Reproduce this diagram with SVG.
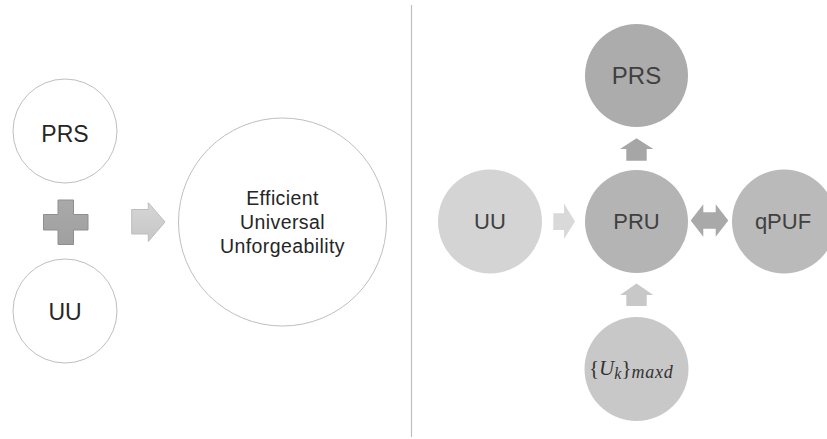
<svg xmlns="http://www.w3.org/2000/svg" width="827" height="439" viewBox="0 0 827 439">
<style>
.lc{fill:#ffffff;stroke:#bfbfbf;stroke-width:1}
.lt{font-family:"Liberation Sans",Arial,sans-serif;fill:#262626;text-anchor:middle}
.rt{font-family:"Liberation Sans",Arial,sans-serif;fill:#404040;text-anchor:middle;font-size:22px}
.mt{font-family:"Liberation Serif","Times New Roman",serif;fill:#333333;font-size:21px}
</style>
<defs>
<linearGradient id="gPlus" x1="0" y1="0" x2="0" y2="1">
<stop offset="0" stop-color="#a9a9a9"/><stop offset="1" stop-color="#a0a0a0"/>
</linearGradient>
<linearGradient id="gArr" x1="0" y1="0" x2="0" y2="1">
<stop offset="0" stop-color="#d6d6d6"/><stop offset="1" stop-color="#c6c6c6"/>
</linearGradient>
</defs>
<rect width="827" height="439" fill="#ffffff"/>
<line x1="411.5" y1="5" x2="411.5" y2="437" stroke="#bfbfbf" stroke-width="1.2"/>

<g id="left-prs"><circle class="lc" cx="65" cy="131" r="52"/><text class="lt" x="65" y="142" font-size="23">PRS</text></g>
<g id="left-uu"><circle class="lc" cx="65" cy="311" r="52"/><text class="lt" x="65" y="320" font-size="23">UU</text></g>
<g id="plus"><path d="M58,200 H73.5 V214.5 H88 V230 H73.5 V244.5 H58 V230 H43.5 V214.5 H58 Z" fill="url(#gPlus)" stroke="#8f8f8f" stroke-width="1"/></g>
<g id="eu"><circle class="lc" cx="282.5" cy="222" r="104"/>
<text class="lt" x="282.5" font-size="19.5" letter-spacing="0.4"><tspan x="282.5" y="205">Efficient</tspan><tspan x="282.5" y="229">Universal</tspan><tspan x="282.5" y="253">Unforgeability</tspan></text></g>

<g id="right-prs"><circle cx="636.5" cy="75.5" r="51.5" fill="#acacac"/><text class="rt" x="636.5" y="84" style="font-size:24px">PRS</text></g>
<g id="right-uu"><circle cx="490" cy="221.5" r="52" fill="#d4d4d4"/><text class="rt" x="490" y="229">UU</text></g>
<g id="pru"><circle cx="636.5" cy="221.5" r="51.5" fill="#b4b4b4"/><text class="rt" x="636.5" y="229">PRU</text></g>
<g id="qpuf"><circle cx="784" cy="221.5" r="52" fill="#bababa"/><text class="rt" x="783" y="229">qPUF</text></g>
<g id="uk"><circle cx="636.5" cy="369" r="52" fill="#c8c8c8"/>
<text class="mt" x="589" y="375">{<tspan font-style="italic">U</tspan><tspan font-style="italic" font-size="16" dy="4">k</tspan><tspan dy="-4">}</tspan><tspan font-style="italic" font-size="18" letter-spacing="0.8" dy="3">maxd</tspan></text></g>

<g id="connectors">
<path d="M131.7,209.5 H148.3 V202.7 L165,222 L148.3,241.5 V234 H131.7 Z" fill="url(#gArr)" stroke="#bdbdbd" stroke-width="1"/>
<path d="M553.3,213.3 H564 V203.5 L575,221.5 L564,239 V230 H553.3 Z" fill="#d9d9d9"/>
<path d="M690.7,220.5 L703.3,204.3 V212.3 H715.7 V204.3 L728.3,220.5 L715.7,236.7 V228.7 H703.3 V236.7 Z" fill="#a9a9a9"/>
<path d="M620,149 L636.5,138.3 L653.3,149 H646.7 V160.7 H626.3 V149 Z" fill="#a6a6a6"/>
<path d="M620,295 L636.5,283.5 L653.3,295 H646.7 V306 H626.3 V295 Z" fill="#c8c8c8"/>
</g>
</svg>
